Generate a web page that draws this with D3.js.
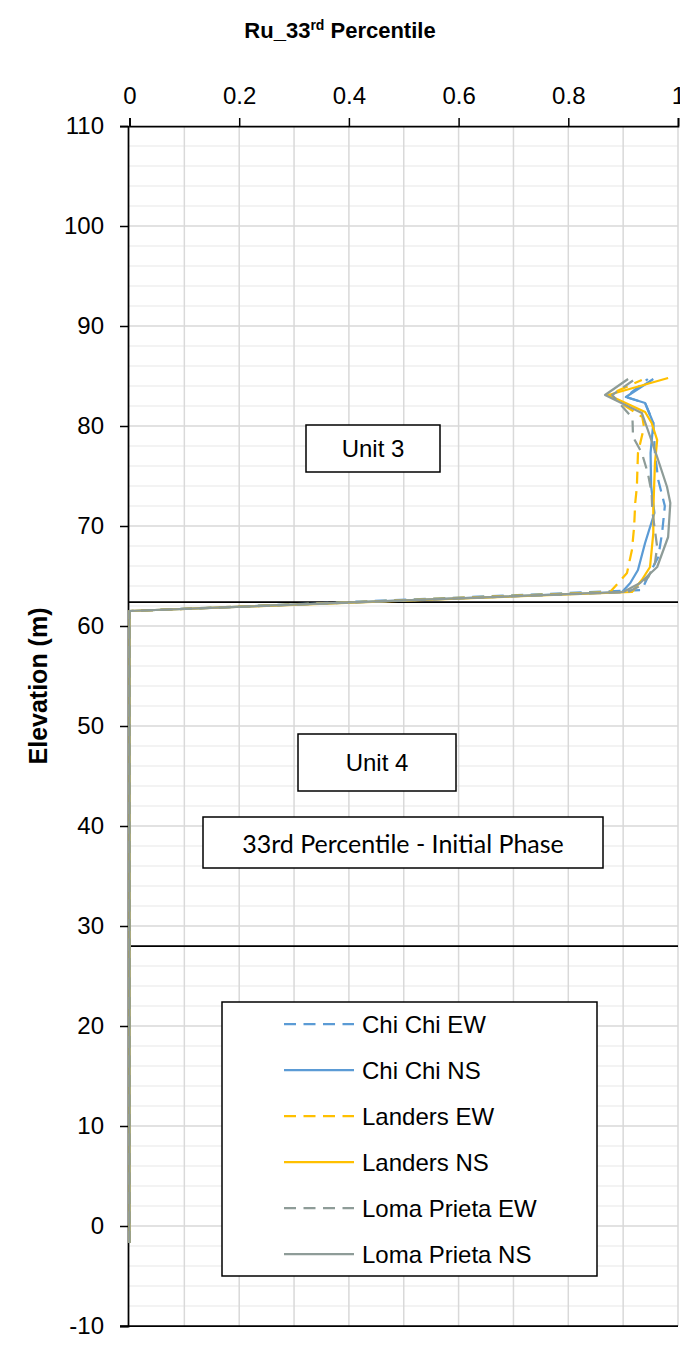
<!DOCTYPE html>
<html>
<head>
<meta charset="utf-8">
<script src="https://cdn.jsdelivr.net/npm/d3@7"></script>
<style>
  html, body { margin: 0; padding: 0; background: #fff; }
  svg { display: block; }
</style>
</head>
<body>
<svg id="chart" width="680" height="1346"></svg>
<script>
// ---- Pore pressure ratio profiles (Ru) vs elevation ----
const seriesNames = ["Chi Chi EW", "Chi Chi NS", "Landers EW", "Landers NS", "Loma Prieta EW", "Loma Prieta NS"];
const seriesColors = ["#5B9BD5", "#5B9BD5", "#FFC000", "#FFC000", "#8E9C98", "#8E9C98"];
const seriesDashed = [true, false, true, false, true, false];

const chiChiEW_elev = [-1.7, 61.5, 63.6, 64.9, 66.9, 69.3, 72.0, 74.6, 77.3, 80.3, 82.3, 82.9, 84.7];
const chiChiEW_ru   = [0, 0, 0.934, 0.945, 0.964, 0.971, 0.976, 0.964, 0.958, 0.955, 0.94, 0.905, 0.945];

const chiChiNS_elev = [-1.7, 61.5, 63.4, 64.3, 65.6, 68.3, 71.3, 74.0, 77.3, 80.3, 82.3, 82.9, 84.7];
const chiChiNS_ru   = [0, 0, 0.898, 0.913, 0.927, 0.94, 0.957, 0.951, 0.95, 0.955, 0.94, 0.905, 0.955];

const landersEW_elev = [-1.7, 61.5, 63.4, 64.3, 65.3, 67.6, 69.9, 72.3, 73.9, 77.3, 79.9, 80.9, 83.1, 84.6];
const landersEW_ru   = [0, 0, 0.876, 0.891, 0.907, 0.916, 0.92, 0.922, 0.925, 0.927, 0.938, 0.935, 0.873, 0.934];

const landersNS_elev = [-1.7, 61.5, 63.4, 64.6, 65.9, 69.3, 71.6, 76.3, 78.6, 80.3, 81.4, 83.1, 84.8];
const landersNS_ru   = [0, 0, 0.916, 0.934, 0.949, 0.955, 0.955, 0.958, 0.962, 0.952, 0.94, 0.873, 0.982];

const lomaPrietaEW_elev = [-1.7, 61.5, 63.4, 63.9, 64.9, 66.3, 67.9, 71.6, 73.3, 75.3, 77.3, 78.9, 80.8, 83.1, 84.7];
const lomaPrietaEW_ru   = [0, 0, 0.909, 0.927, 0.946, 0.958, 0.962, 0.953, 0.952, 0.945, 0.934, 0.918, 0.917, 0.88, 0.922];

const lomaPrietaNS_elev = [-1.7, 61.5, 63.4, 64.3, 65.9, 68.9, 72.3, 73.9, 76.9, 79.6, 81.3, 83.1, 84.7];
const lomaPrietaNS_ru   = [0, 0, 0.9, 0.931, 0.962, 0.982, 0.986, 0.98, 0.962, 0.945, 0.934, 0.867, 0.909];

// Unit boundaries (elevation, m)
const unitBoundaries = [62.4, 28];

// Axis ticks
const xTicks = [0, 0.2, 0.4, 0.6, 0.8, 1];
const yTicks = [-10, 0, 10, 20, 30, 40, 50, 60, 70, 80, 90, 100, 110];

const seriesElev = [chiChiEW_elev, chiChiNS_elev, landersEW_elev, landersNS_elev, lomaPrietaEW_elev, lomaPrietaNS_elev];
const seriesRu = [chiChiEW_ru, chiChiNS_ru, landersEW_ru, landersNS_ru, lomaPrietaEW_ru, lomaPrietaNS_ru];

const svg = d3.select("#chart");
const plotLeft = 128, plotRight = 678, plotTop = 126, plotBottom = 1326;

const x = d3.scaleLinear().domain([0, 1]).range([plotLeft + 1.5, plotRight]);
const y = d3.scaleLinear().domain([-10, 110]).range([plotBottom, plotTop]);

const axisFont = "'Liberation Sans', Arial, sans-serif";

// Gridlines
const grid = svg.append("g");
grid.selectAll("line.hminor")
  .data(d3.range(-10, 110.01, 2).filter(v => v % 10 !== 0))
  .join("line")
  .attr("x1", plotLeft).attr("x2", plotRight)
  .attr("y1", d => y(d)).attr("y2", d => y(d))
  .attr("stroke", "#efefef").attr("stroke-width", 1.5);
grid.selectAll("line.hmajor")
  .data(yTicks.filter(v => v > -10 && v < 110))
  .join("line")
  .attr("x1", plotLeft).attr("x2", plotRight)
  .attr("y1", d => y(d)).attr("y2", d => y(d))
  .attr("stroke", "#d9d9d9").attr("stroke-width", 1.5);
grid.selectAll("line.v")
  .data(d3.range(1, 11).map(i => i / 10))
  .join("line")
  .attr("x1", d => x(d)).attr("x2", d => x(d))
  .attr("y1", plotTop).attr("y2", plotBottom)
  .attr("stroke", "#d9d9d9").attr("stroke-width", 1.5);

// Unit boundary lines
svg.append("g").selectAll("line")
  .data(unitBoundaries)
  .join("line")
  .attr("x1", plotLeft).attr("x2", plotRight)
  .attr("y1", d => y(d)).attr("y2", d => y(d))
  .attr("stroke", "#000").attr("stroke-width", 1.75);

// Text boxes
const boxes = [
  { text: "Unit 3", x0: 306, y0: 425, w: 134, h: 47, font: axisFont, size: 24 },
  { text: "Unit 4", x0: 298, y0: 734, w: 158, h: 57, font: axisFont, size: 24 },
  { text: "33rd Percentile - Initial Phase", x0: 203, y0: 817, w: 400, h: 51, font: "Lato, 'Open Sans', sans-serif", size: 25 }
];
const bg = svg.append("g").selectAll("g").data(boxes).join("g");
bg.append("rect")
  .attr("x", d => d.x0).attr("y", d => d.y0).attr("width", d => d.w).attr("height", d => d.h)
  .attr("fill", "#fff").attr("stroke", "#000").attr("stroke-width", 1.5);
bg.append("text")
  .attr("x", d => d.x0 + d.w / 2).attr("y", d => d.y0 + d.h / 2)
  .attr("text-anchor", "middle").attr("dominant-baseline", "central")
  .attr("font-family", d => d.font).attr("font-size", d => d.size)
  .attr("fill", "#000")
  .text(d => d.text);

// Axes
const xAxis = svg.append("g")
  .attr("transform", `translate(0,${plotTop})`)
  .call(d3.axisTop(x).tickValues(xTicks).tickSize(8).tickPadding(14).tickFormat(d3.format("~g")));
const yAxis = svg.append("g")
  .attr("transform", `translate(${plotLeft},0)`)
  .call(d3.axisLeft(y).tickValues(yTicks).tickSize(8).tickPadding(16).tickFormat(d => String(d)));
[xAxis, yAxis].forEach(g => {
  g.select(".domain").attr("stroke", "#000").attr("stroke-width", 1.75);
  g.selectAll(".tick line").attr("stroke", "#000").attr("stroke-width", 1.5);
  g.selectAll(".tick text").attr("font-family", axisFont).attr("font-size", 24).attr("fill", "#000");
});
// Bottom border of plot area
svg.append("line")
  .attr("x1", plotLeft - 8).attr("x2", plotRight)
  .attr("y1", y(-10)).attr("y2", y(-10))
  .attr("stroke", "#000").attr("stroke-width", 1.75);

// Data series
const line = d3.line().x(d => x(d.ru)).y(d => y(d.elev));
const seriesData = seriesNames.map((name, i) => ({
  name, color: seriesColors[i], dashed: seriesDashed[i],
  points: seriesElev[i].map((e, j) => ({ elev: e, ru: seriesRu[i][j] }))
}));
svg.append("g").selectAll("path")
  .data(seriesData)
  .join("path")
  .attr("d", d => line(d.points))
  .attr("fill", "none")
  .attr("stroke", d => d.color)
  .attr("stroke-width", 2.25)
  .attr("stroke-linejoin", "round")
  .attr("stroke-dasharray", d => d.dashed ? "12,7.5" : null);

// Title
const title = svg.append("text")
  .attr("x", 340).attr("y", 38)
  .attr("text-anchor", "middle")
  .attr("font-family", axisFont).attr("font-weight", "bold").attr("font-size", 22)
  .attr("fill", "#000");
title.append("tspan").text("Ru_33");
title.append("tspan").attr("font-size", 14).attr("dy", -8).text("rd");
title.append("tspan").attr("dy", 8).text(" Percentile");

// Y axis title
svg.append("text")
  .attr("transform", `translate(47,${(y(-10) + y(110)) / 2 - 40}) rotate(-90)`)
  .attr("text-anchor", "middle")
  .attr("font-family", axisFont).attr("font-weight", "bold").attr("font-size", 25)
  .attr("fill", "#000")
  .text("Elevation (m)");

// Legend
const legX = 222, legY = 1002, legW = 375, legH = 274, rowGap = 46;
const legend = svg.append("g");
legend.append("rect")
  .attr("x", legX).attr("y", legY).attr("width", legW).attr("height", legH)
  .attr("fill", "#fff").attr("stroke", "#000").attr("stroke-width", 1.5);
const rows = legend.selectAll("g.row").data(seriesData).join("g")
  .attr("transform", (d, i) => `translate(0,${legY + 22 + i * rowGap})`);
rows.append("line")
  .attr("x1", 284).attr("x2", 354).attr("y1", 0).attr("y2", 0)
  .attr("stroke", d => d.color).attr("stroke-width", 2.25)
  .attr("stroke-dasharray", d => d.dashed ? "12,7.5" : null);
rows.append("text")
  .attr("x", 362).attr("y", 0).attr("dominant-baseline", "central")
  .attr("font-family", axisFont).attr("font-size", 24).attr("fill", "#000")
  .text(d => d.name);
</script>
</body>
</html>
